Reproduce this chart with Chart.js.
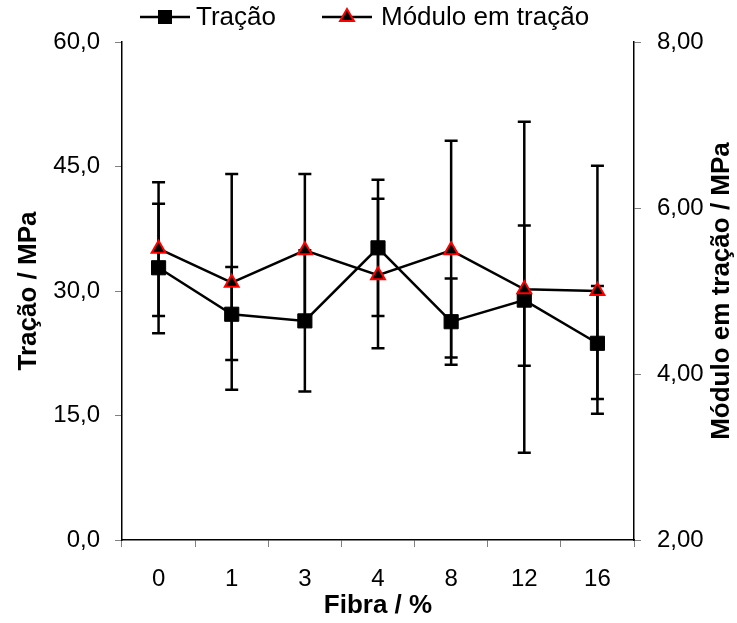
<!DOCTYPE html>
<html>
<head>
<meta charset="utf-8">
<script src="https://cdn.jsdelivr.net/npm/chart.js@4.4.1/dist/chart.umd.min.js"></script>
<style>
  html, body { margin: 0; padding: 0; background: #ffffff; }
  #wrap { width: 737px; height: 623px; position: relative; }
</style>
</head>
<body>
<div id="wrap"><canvas id="c" width="737" height="623"></canvas></div>
<script>
// ---- data ----
const categories = ['0', '1', '3', '4', '8', '12', '16'];
const tracao      = [32.8, 27.2, 26.4, 35.2, 26.3, 28.9, 23.7];
const tracaoHigh  = [40.5, 32.9, 34.9, 43.4, 31.5, 37.9, 30.6];
const tracaoLow   = [24.9, 21.7, 17.9, 27.0, 21.1, 21.0, 17.0];
const modulo      = [5.51, 5.10, 5.49, 5.19, 5.49, 5.02, 5.00];
const moduloHigh  = [6.31, 6.41, 6.41, 6.11, 6.81, 7.04, 6.51];
const moduloLow   = [4.70, 3.81, 4.58, 4.31, 4.20, 3.05, 3.52];
const leftTicks   = [0, 15, 30, 45, 60];
const rightTicks  = [2, 4, 6, 8];

const seriesNames = ['Tração', 'Módulo em tração'];
const xTitle = 'Fibra / %';
const yLeftTitle = 'Tração / MPa';
const yRightTitle = 'Módulo em tração / MPa';

const FONT = '"Liberation Sans", Arial, sans-serif';
const FS_TICK = 24;
const FS_TITLE = 26;
const FS_LEGEND = 26;

const errorBars = {
  id: 'errorBars',
  beforeDatasetsDraw(chart) {
    const ctx = chart.ctx;
    const x = chart.scales.x;
    const sets = [
      { ys: chart.scales.y, hi: tracaoHigh, lo: tracaoLow },
      { ys: chart.scales.y2, hi: moduloHigh, lo: moduloLow }
    ];
    ctx.save();
    ctx.strokeStyle = '#000';
    ctx.lineWidth = 2.5;
    ctx.lineCap = 'butt';
    sets.forEach(s => {
      categories.forEach((c, i) => {
        const px = x.getPixelForValue(i);
        const yh = s.ys.getPixelForValue(s.hi[i]);
        const yl = s.ys.getPixelForValue(s.lo[i]);
        ctx.beginPath();
        ctx.moveTo(px, yh); ctx.lineTo(px, yl);
        ctx.moveTo(px - 6.5, yh); ctx.lineTo(px + 6.5, yh);
        ctx.moveTo(px - 6.5, yl); ctx.lineTo(px + 6.5, yl);
        ctx.stroke();
      });
    });
    ctx.restore();
  }
};

const extras = {
  id: 'extras',
  afterDraw(chart) {
    const ctx = chart.ctx;
    const area = chart.chartArea;
    ctx.save();
    // right axis title, reading bottom to top
    ctx.font = 'bold ' + FS_TITLE + 'px ' + FONT;
    ctx.fillStyle = '#000';
    ctx.textAlign = 'center';
    ctx.textBaseline = 'middle';
    ctx.translate(722, (area.top + area.bottom) / 2);
    ctx.rotate(-Math.PI / 2);
    ctx.fillText(yRightTitle, 0, 0);
    ctx.restore();

    // legend
    ctx.save();
    const ly = 17;
    ctx.font = FS_LEGEND + 'px ' + FONT;
    ctx.textAlign = 'left';
    ctx.textBaseline = 'middle';
    ctx.fillStyle = '#000';
    ctx.strokeStyle = '#000';
    ctx.lineWidth = 2.5;
    // item 1
    ctx.beginPath(); ctx.moveTo(140, ly); ctx.lineTo(190, ly); ctx.stroke();
    ctx.fillRect(158, ly - 7, 14, 14);
    ctx.fillText(seriesNames[0], 196, ly + 1);
    // item 2
    ctx.beginPath(); ctx.moveTo(322, ly); ctx.lineTo(372, ly); ctx.stroke();
    const tx = 347, r = 8;
    ctx.beginPath();
    ctx.moveTo(tx, ly - r);
    ctx.lineTo(tx + r * Math.sin(2 * Math.PI / 3), ly + r / 2);
    ctx.lineTo(tx - r * Math.sin(2 * Math.PI / 3), ly + r / 2);
    ctx.closePath();
    ctx.fillStyle = '#000';
    ctx.fill();
    ctx.strokeStyle = '#ff0000';
    ctx.lineWidth = 2;
    ctx.stroke();
    ctx.fillStyle = '#000';
    ctx.fillText(seriesNames[1], 381, ly + 1);
    ctx.restore();
  }
};

new Chart(document.getElementById('c'), {
  type: 'line',
  data: {
    labels: categories,
    datasets: [
      {
        label: seriesNames[1],
        data: modulo,
        yAxisID: 'y2',
        borderColor: '#000',
        borderWidth: 2.5,
        pointStyle: 'triangle',
        pointRadius: 8,
        pointHoverRadius: 8,
        pointBackgroundColor: '#000',
        pointBorderColor: '#ff0000',
        pointBorderWidth: 2,
        tension: 0,
        order: 0
      },
      {
        label: seriesNames[0],
        data: tracao,
        yAxisID: 'y',
        borderColor: '#000',
        borderWidth: 2.5,
        pointStyle: 'rect',
        pointRadius: 10,
        pointHoverRadius: 10,
        pointBackgroundColor: '#000',
        pointBorderColor: '#000',
        pointBorderWidth: 1,
        tension: 0,
        order: 1
      }
    ]
  },
  options: {
    responsive: false,
    animation: false,
    events: [],
    layout: { padding: { top: 42, left: 0, right: 0, bottom: 0 } },
    plugins: { legend: { display: false }, tooltip: { enabled: false } },
    scales: {
      x: {
        type: 'category',
        offset: true,
        grid: { display: true, drawOnChartArea: false, offset: true, tickLength: 7, tickColor: '#808080', tickWidth: 1 },
        border: { display: true, color: '#000', width: 1.5 },
        ticks: { color: '#000', font: { family: FONT, size: FS_TICK }, padding: 18, maxRotation: 0 },
        title: { display: true, text: xTitle, color: '#000', font: { family: FONT, size: FS_TITLE, weight: 'bold' }, padding: { top: 0, bottom: 2 } },
        afterFit(s) { s.height = 83; }
      },
      y: {
        position: 'left',
        min: leftTicks[0],
        max: leftTicks[leftTicks.length - 1],
        afterBuildTicks(s) { s.ticks = leftTicks.map(v => ({ value: v })); },
        grid: { display: true, drawOnChartArea: false, tickLength: 7, tickColor: '#808080', tickWidth: 1 },
        border: { display: true, color: '#000', width: 1.5 },
        ticks: { color: '#000', font: { family: FONT, size: FS_TICK }, padding: 15,
                 callback: v => v.toFixed(1).replace('.', ',') },
        title: { display: true, text: yLeftTitle, color: '#000', font: { family: FONT, size: FS_TITLE, weight: 'bold' }, padding: { top: 13, bottom: 0 } },
        afterFit(s) { s.width = 122; }
      },
      y2: {
        position: 'right',
        min: rightTicks[0],
        max: rightTicks[rightTicks.length - 1],
        afterBuildTicks(s) { s.ticks = rightTicks.map(v => ({ value: v })); },
        grid: { display: true, drawOnChartArea: false, tickLength: 7, tickColor: '#808080', tickWidth: 1 },
        border: { display: true, color: '#000', width: 1.5 },
        ticks: { color: '#000', font: { family: FONT, size: FS_TICK }, padding: 16,
                 callback: v => v.toFixed(2).replace('.', ',') },
        afterFit(s) { s.width = 103; }
      }
    }
  },
  plugins: [errorBars, extras]
});
</script>
</body>
</html>
